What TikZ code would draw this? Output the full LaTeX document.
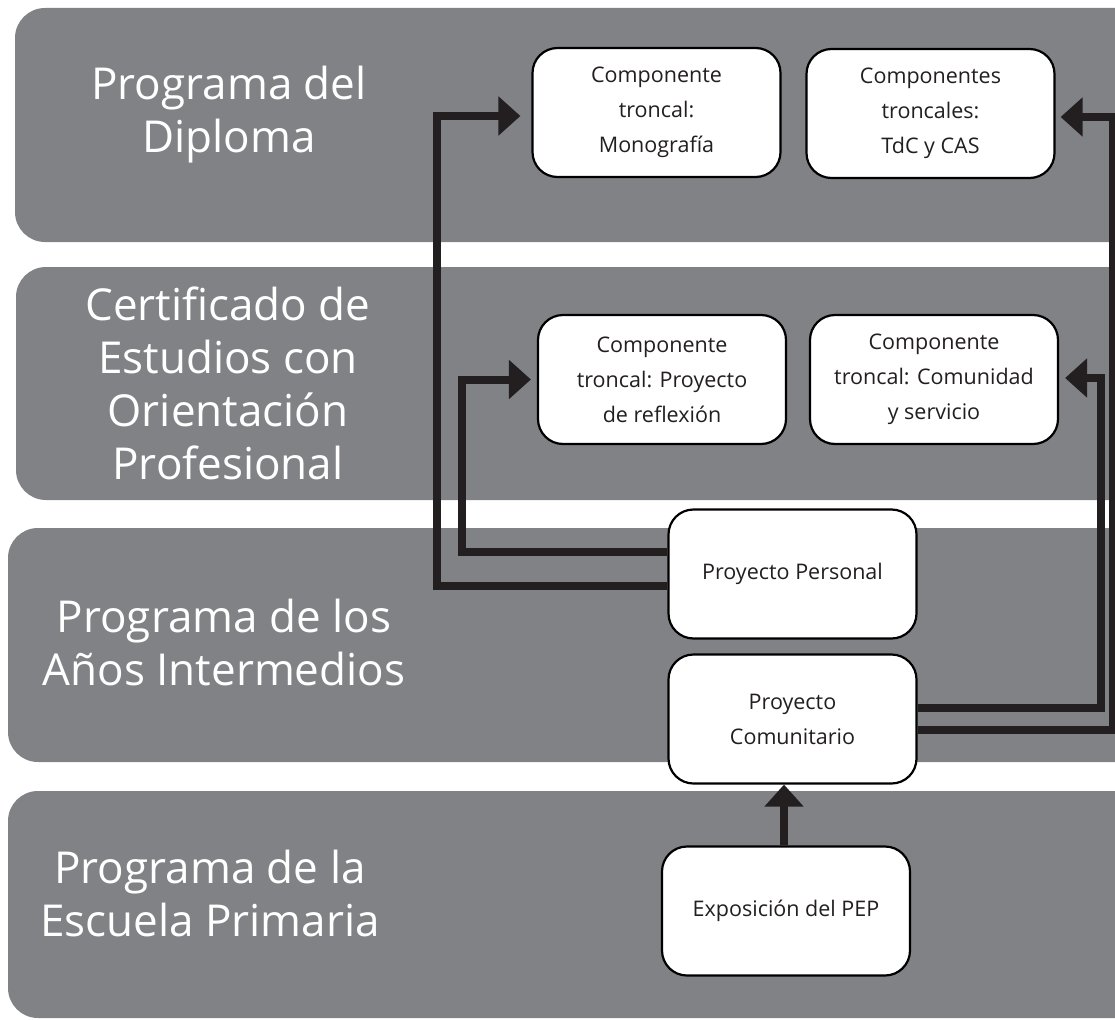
\documentclass[tikz,border=0pt]{standalone}
\usepackage{fontspec}
\setmainfont{Open Sans}
\usetikzlibrary{arrows.meta}
\definecolor{bandgray}{RGB}{128,130,134}
\definecolor{ink}{RGB}{35,31,32}
\tikzset{
  band/.style={fill=bandgray, rounded corners=30pt},
  box/.style={draw=black, line width=2.2pt, fill=white, rounded corners=25pt,
    minimum width=248pt, minimum height=129pt, align=center, inner sep=0pt,
    text=ink, font=\fontsize{21.5}{35}\selectfont},
  title/.style={text=white, align=center, inner sep=0pt, font=\fontsize{44}{53}\selectfont},
  arr/.style={line width=8pt, draw=ink, line join=miter, -{Triangle[width=38pt,length=22pt]}}
}
\begin{document}
\begin{tikzpicture}[x=1pt,y=-1pt]
\useasboundingbox (0,0) rectangle (1115,1019);
\clip (0,0) rectangle (1115,1019);
\fill[white] (0,0) rectangle (1115,1019);
% bands
\fill[band] (15,8) rectangle (1145,242);
\fill[band] (16,267) rectangle (1145,500);
\fill[band] (8,528) rectangle (1145,762);
\fill[band] (8,791) rectangle (1145,1018);
% titles
\node[title] (t1) at (229,115) {Programa del\\Diploma};
\node[title] (t2) at (228,383) {Certificado de\\Estudios con\\Orientación\\Profesional};
\node[title] (t3) at (224,642) {Programa de los\\Años Intermedios};
\node[title] (t4) at (210,893) {Programa de la\\Escuela Primaria};
% boxes
\node[box] (mono) at (656.5,112.5) {Componente\\troncal:\\Monografía};
\node[box] (tdc) at (930.5,113.5) {Componentes\\troncales:\\TdC y CAS};
\node[box] (ref) at (662,379.5) {Componente\\troncal: Proyecto\\de reflexión};
\node[box] (cs) at (934,379.5) {Componente\\troncal: Comunidad\\y servicio};
\node[box] (pp) at (792.5,574) {Proyecto Personal};
\node[box] (pc) at (792.5,719) {Proyecto\\Comunitario};
\node[box] (ex) at (786,911) {Exposición del PEP};
% routing columns
\coordinate (colA) at (437,0);
\coordinate (colB) at (462,0);
\coordinate (colC) at (1101,0);
\coordinate (colD) at (1113,0);
% connectors
\draw[arr] ([yshift=-12pt]pp.west) -- ([yshift=-12pt]pp.west -| colA) |- ([xshift=-11pt,yshift=-3.5pt]mono.west);
\draw[arr] ([yshift=22pt]pp.west) -- ([yshift=22pt]pp.west -| colB) |- ([xshift=-6pt]ref.west);
\draw[arr] ([yshift=11pt]pc.east) -- ([yshift=11pt]pc.east -| colC) |- ([xshift=6pt,yshift=1.5pt]cs.east);
\draw[arr] ([yshift=-11pt]pc.east) -- ([yshift=-11pt]pc.east -| colD) |- ([xshift=5pt,yshift=-3.5pt]tdc.east);
\draw[arr] ([xshift=-2pt]ex.north) -- ([xshift=-2pt]ex.north |- pc.south);
\end{tikzpicture}
\end{document}
